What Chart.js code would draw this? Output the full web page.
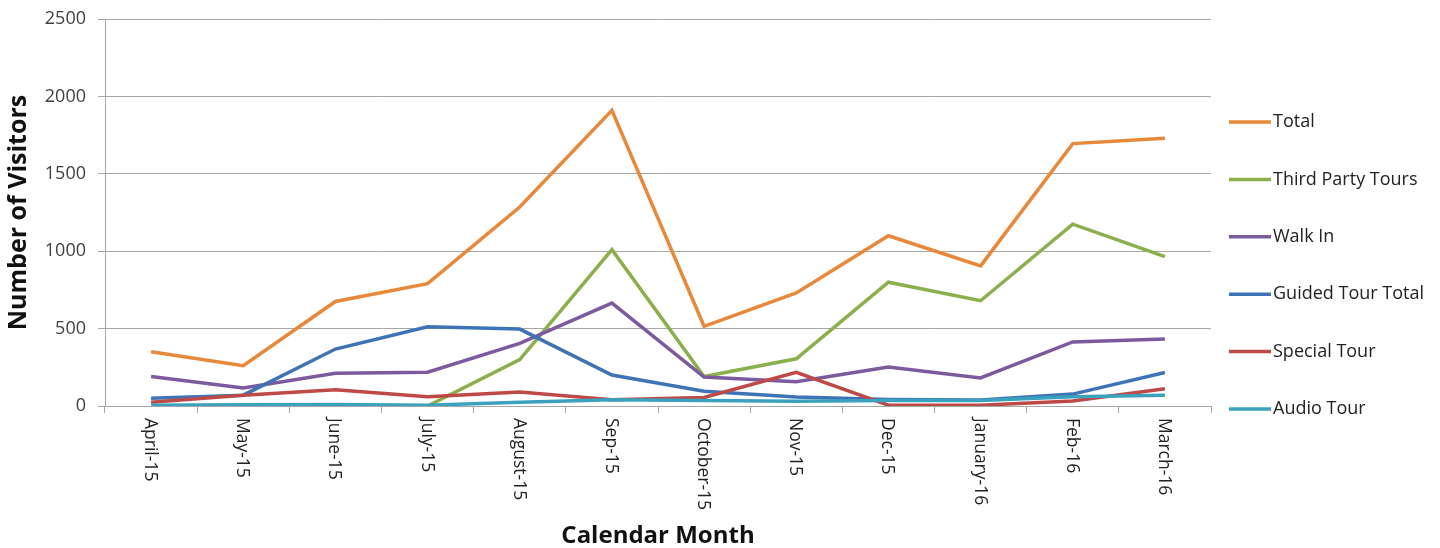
<!DOCTYPE html>
<html>
<head>
<meta charset="utf-8">
<script src="https://cdn.jsdelivr.net/npm/chart.js@4/dist/chart.umd.min.js"></script>
<style>
html,body{margin:0;padding:0;background:#fff;}
#wrap{position:relative;width:1440px;height:548px;}
</style>
</head>
<body>
<div id="wrap"><canvas id="c" width="1440" height="548"></canvas></div>
<script>
const months = ["April-15","May-15","June-15","July-15","August-15","Sep-15","October-15","Nov-15","Dec-15","January-16","Feb-16","March-16"];
const total = [350, 260, 675, 790, 1285, 1910, 515, 730, 1100, 905, 1695, 1730];
const thirdParty = [null, null, null, 0, 300, 1010, 190, 305, 800, 680, 1175, 965];
const walkIn = [190, 117, 212, 218, 405, 665, 187, 157, 252, 181, 414, 433];
const guidedTour = [50, 70, 368, 512, 497, 200, 95, 58, 42, 38, 77, 216];
const specialTour = [25, 70, 105, 60, 90, 40, 55, 218, 5, 5, 32, 112];
const audioTour = [5, 8, 10, 5, 25, 40, 35, 30, 35, 35, 60, 70];
const seriesNames = ["Total","Third Party Tours","Walk In","Guided Tour Total","Special Tour","Audio Tour"];
const yTicks = [0, 500, 1000, 1500, 2000, 2500];

const colors = ["#E8883A","#8BB04B","#7C5A9E","#3E74B6","#BE4A47","#3BA2BE"];
const FONT = "'Open Sans', 'Liberation Sans', sans-serif";
const seriesData = [total, thirdParty, walkIn, guidedTour, specialTour, audioTour];

const datasets = seriesData.map((d, i) => ({
  label: seriesNames[i],
  data: d,
  borderColor: colors[i],
  backgroundColor: colors[i],
  borderWidth: 3.5,
  pointRadius: 0,
  tension: 0,
  fill: false,
  spanGaps: false,
  order: seriesData.length - i
}));

const customDraw = {
  id: 'customDraw',
  afterDraw(chart) {
    const ctx = chart.ctx;
    const xs = chart.scales.x;
    ctx.save();
    ctx.fillStyle = "#222";
    ctx.font = "17.5px " + FONT;
    months.forEach((m, i) => {
      const px = xs.getPixelForValue(i);
      ctx.save();
      ctx.translate(px - 1, chart.chartArea.bottom + 12);
      ctx.rotate(Math.PI / 2);
      ctx.textAlign = "left";
      ctx.textBaseline = "middle";
      ctx.fillText(m, 0, 0);
      ctx.restore();
    });
    ctx.restore();
    ctx.save();
    ctx.font = "18px " + FONT;
    ctx.textBaseline = "middle";
    ctx.textAlign = "left";
    chart.data.datasets.forEach((ds, i) => {
      const y = 122 + i * 57.4;
      ctx.strokeStyle = ds.borderColor;
      ctx.lineWidth = 3.5;
      ctx.beginPath();
      ctx.moveTo(1229, y);
      ctx.lineTo(1271, y);
      ctx.stroke();
      ctx.fillStyle = "#222";
      ctx.fillText(ds.label, 1273, y);
    });
    ctx.restore();
  }
};

new Chart(document.getElementById('c'), {
  type: 'line',
  data: { labels: months, datasets: datasets },
  options: {
    responsive: false,
    animation: false,
    devicePixelRatio: 1,
    layout: { padding: { top: 19, right: 229, bottom: 0, left: 0 } },
    plugins: {
      legend: { display: false },
      tooltip: { enabled: false }
    },
    scales: {
      x: {
        type: 'category',
        offset: true,
        grid: { offset: true, drawOnChartArea: false, drawTicks: true, tickLength: 7, color: "#A6A6A6" },
        border: { display: true, color: "#A6A6A6", width: 1 },
        ticks: { color: "rgba(0,0,0,0)", font: { size: 16, family: FONT }, maxRotation: 90, minRotation: 90 },
        title: { display: true, text: "Calendar Month", color: "#111", font: { size: 24, weight: 'bold', family: FONT, lineHeight: 1 }, padding: { top: 0, bottom: 0 } },
        afterFit(scale) { scale.height = 142; scale.paddingLeft = 0; scale.paddingRight = 0; }
      },
      y: {
        min: 0,
        max: 2500,
        afterBuildTicks(scale) { scale.ticks = yTicks.map(v => ({ value: v })); },
        grid: { color: "#A6A6A6", tickLength: 7, lineWidth: 1 },
        border: { display: true, color: "#A6A6A6", width: 1 },
        ticks: { color: "#404040", font: { size: 18, family: FONT }, padding: 12, callback: (v) => String(v) },
        title: { display: true, text: "Number of Visitors", color: "#111", font: { size: 25, weight: 'bold', family: FONT, lineHeight: 1.2 }, padding: { top: 4, bottom: 0 } },
        afterFit(scale) { scale.width = 105; scale.paddingTop = 0; scale.paddingBottom = 0; }
      }
    }
  },
  plugins: [customDraw]
});
</script>
</body>
</html>
